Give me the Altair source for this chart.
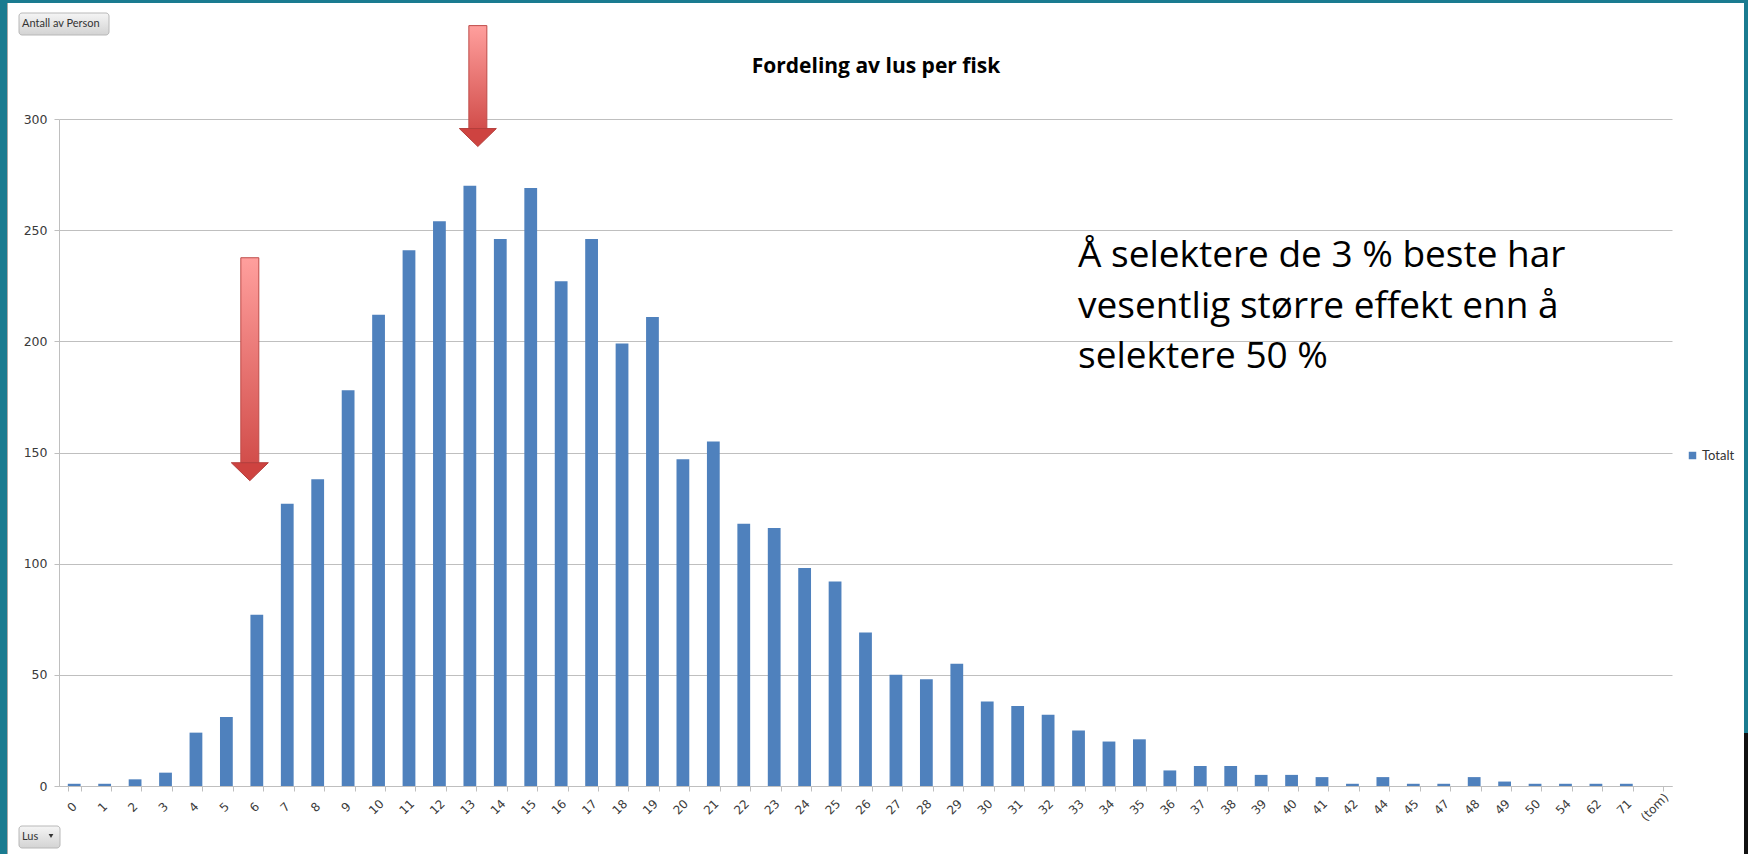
import altair as alt
import pandas as pd

# Lice per fish (category labels) and number of fish in each category
lus = ["0", "1", "2", "3", "4", "5", "6", "7", "8", "9",
       "10", "11", "12", "13", "14", "15", "16", "17", "18", "19",
       "20", "21", "22", "23", "24", "25", "26", "27", "28", "29",
       "30", "31", "32", "33", "34", "35", "36", "37", "38", "39",
       "40", "41", "42", "44", "45", "47", "48", "49", "50", "54",
       "62", "71", "(tom)"]
antall = [1, 1, 3, 6, 24, 31, 77, 127, 138, 178,
          212, 241, 254, 270, 246, 269, 227, 246, 199, 211,
          147, 155, 118, 116, 98, 92, 69, 50, 48, 55,
          38, 36, 32, 25, 20, 21, 7, 9, 9, 5,
          5, 4, 1, 4, 1, 1, 4, 2, 1, 1,
          1, 1, 0]
serie = "Totalt"
y_ticks = [0, 50, 100, 150, 200, 250, 300]

title_text = "Fordeling av lus per fisk"
note_lines = ["Å selektere de 3 % beste har",
              "vesentlig større effekt enn å",
              "selektere 50 %"]

# Arrows: category pointed at, top of shaft, start of head (in count units)
arrow_cat = ["6", "13"]
arrow_top = [237.6, 342.0]
arrow_neck = [145.4, 295.7]

W, H = 1613, 667
PAD_L, PAD_T = 59, 119
BLUE = "#4F81BD"
TEAL = "#1A7B90"
GRID = "#BFBFBF"
LABEL = "#3A3A3A"

df = pd.DataFrame({"Lus": lus, "Antall": antall, "Serie": serie})

x_scale = alt.Scale(domain=lus, paddingInner=0.58, paddingOuter=0.29)
y_scale = alt.Scale(domain=[0, 300], nice=False, zero=True)

# category labels are drawn by a rotated text layer below
x_axis = alt.Axis(labels=False, tickBand="extent", tickSize=5,
                  domainColor=GRID, tickColor=GRID, grid=False)
y_axis = alt.Axis(values=y_ticks, tickSize=5, labelPadding=7,
                  labelFont="DejaVu Sans", labelFontSize=12.5, labelColor=LABEL,
                  domainColor=GRID, tickColor=GRID, gridColor=GRID, grid=True)

bars = alt.Chart(df).mark_bar(opacity=1).encode(
    x=alt.X("Lus:N", scale=x_scale, sort=lus, title=None, axis=x_axis),
    y=alt.Y("Antall:Q", scale=y_scale, title=None, axis=y_axis),
    color=alt.Color("Serie:N", scale=alt.Scale(domain=[serie], range=[BLUE]), title=None,
                    legend=alt.Legend(orient="none", legendX=1627, legendY=330,
                                      symbolType="square", symbolSize=56, symbolStrokeWidth=0,
                                      labelFont="Lato", labelFontSize=13, labelColor="#333333",
                                      labelOffset=3, padding=0)),
)

# slanted category labels, centred a little below-left of each category
x_labels = alt.Chart(df).mark_text(
    align="center", baseline="middle", dx=-3,
    font="DejaVu Sans", fontSize=12, color=LABEL
).encode(
    x=alt.X("Lus:N", scale=x_scale, sort=lus, title=None, axis=x_axis),
    y=alt.value(H + 19),
    angle=alt.value(315),
    text="Lus:N",
)

shaft_fill = {
    "gradient": "linear", "x1": 0, "y1": 0, "x2": 0, "y2": 1,
    "stops": [{"offset": 0, "color": "#FF9F9D"}, {"offset": 1, "color": "#D24E4B"}],
}


def arrow(cat, top, neck, nudge):
    d = pd.DataFrame({"Lus": [cat], "Antall": [top], "Neck": [neck]})
    shaft = alt.Chart(d).mark_bar(width=18, fill=shaft_fill, stroke="#BE4B48",
                                  strokeWidth=1, xOffset=nudge).encode(
        x=alt.X("Lus:N", scale=x_scale, sort=lus, title=None, axis=x_axis),
        y=alt.Y("Antall:Q", scale=y_scale, title=None, axis=y_axis),
        y2="Neck:Q",
    )
    head = alt.Chart(d).mark_point(shape="M-1,0L1,0L0,0.97Z", size=1369, filled=True,
                                   fill="#CE4340", stroke="#B43E3B", strokeWidth=1,
                                   opacity=1, xOffset=nudge).encode(
        x=alt.X("Lus:N", scale=x_scale, sort=lus, title=None, axis=x_axis),
        y=alt.Y("Neck:Q", scale=y_scale, title=None, axis=y_axis),
    )
    return [shaft, head]


arrows = arrow(arrow_cat[0], arrow_top[0], arrow_neck[0], -7) + \
    arrow(arrow_cat[1], arrow_top[1], arrow_neck[1], 8)

one = alt.Data(values=[{}])

heading = alt.Chart(one).mark_text(
    text=title_text, align="center", baseline="alphabetic", font="Open Sans",
    fontSize=21, fontWeight="bold", color="black"
).encode(x=alt.value(876 - PAD_L), y=alt.value(73 - PAD_T))

note = alt.Chart(one).mark_text(
    text=note_lines, align="left", baseline="alphabetic", font="Open Sans",
    fontSize=37, lineHeight=50.5, color="black"
).encode(x=alt.value(1078 - PAD_L), y=alt.value(267 - PAD_T))


def strip(x0, x1, y0, y1, color):
    return alt.Chart(one).mark_rect(fill=color, stroke=None).encode(
        x=alt.value(x0 - PAD_L), x2=alt.value(x1 - PAD_L),
        y=alt.value(y0 - PAD_T), y2=alt.value(y1 - PAD_T))


frame = [
    strip(0, 7, 0, 854, TEAL),
    strip(7, 8, 3, 854, "#A9A9A9"),
    strip(0, 1748, 0, 3, TEAL),
    strip(1744, 1748, 0, 733, TEAL),
    strip(1744, 1748, 733, 854, "#111111"),
]

btn_fill = {
    "gradient": "linear", "x1": 0, "y1": 0, "x2": 0, "y2": 1,
    "stops": [{"offset": 0, "color": "#F5F5F5"}, {"offset": 1, "color": "#D3D3D3"}],
}


def button(x0, x1, y0, y1, label):
    box = alt.Chart(one).mark_rect(fill=btn_fill, stroke="#B8B8B8", strokeWidth=1,
                                   cornerRadius=3).encode(
        x=alt.value(x0 - PAD_L), x2=alt.value(x1 - PAD_L),
        y=alt.value(y0 - PAD_T), y2=alt.value(y1 - PAD_T))
    txt = alt.Chart(one).mark_text(text=label, align="left", baseline="middle",
                                   font="Lato", fontSize=11, color="#333333").encode(
        x=alt.value(x0 + 3 - PAD_L), y=alt.value((y0 + y1) / 2 - PAD_T))
    return [box, txt]


buttons = button(19, 109, 13, 35, "Antall av Person") + button(19, 60, 826, 848, "Lus")
caret = alt.Chart(one).mark_point(shape="triangle-down", size=22, filled=True,
                                  color="#333333", opacity=1).encode(
    x=alt.value(51 - PAD_L), y=alt.value(836 - PAD_T))

chart = alt.layer(*frame, *buttons, caret, heading, bars, x_labels, *arrows, note).properties(
    width=W, height=H,
    autosize="none",
    padding={"left": PAD_L, "top": PAD_T, "right": 1748 - PAD_L - W, "bottom": 854 - PAD_T - H},
    background="white",
).configure_view(stroke=None)

chart.save("out.html", embed_options={"renderer": "svg", "actions": False})
